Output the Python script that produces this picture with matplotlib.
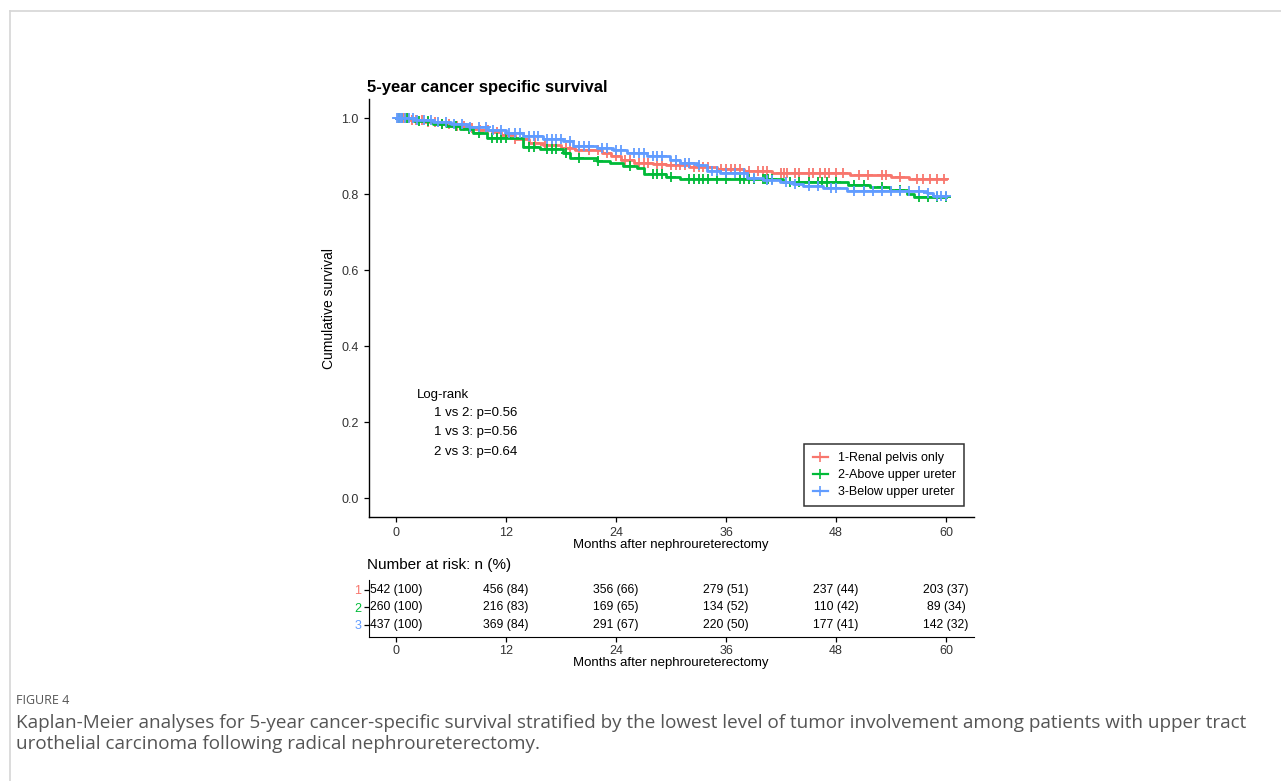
import numpy as np
import matplotlib.pyplot as plt
from matplotlib.lines import Line2D

plt.rcParams['font.family'] = ['Liberation Sans', 'DejaVu Sans']

# ---- data ----
groups = ['1-Renal pelvis only', '2-Above upper ureter', '3-Below upper ureter']
colors = ['#F8766D', '#00BA38', '#619CFF']
follow_up = 60

t1 = [0, 1.5, 3, 4.5, 6, 7.5, 9, 10.5, 11.5, 13, 14.5, 16, 18, 19.5, 22.5, 23.5,
      24.5, 26, 28, 29.5, 32, 35, 38, 41, 49.5, 54, 56]
s1 = [1.0, 0.995, 0.99, 0.985, 0.98, 0.975, 0.968, 0.962, 0.956, 0.945, 0.935, 0.928,
      0.92, 0.915, 0.908, 0.899, 0.89, 0.881, 0.879, 0.876, 0.872, 0.866, 0.86, 0.856,
      0.851, 0.845, 0.84]
c1 = [0.2, 0.4, 0.6, 0.8, 1, 1.3, 1.7, 2.2, 2.8, 3.5, 4.2, 5, 5.8, 6.6, 7.4, 8.3, 9.2,
      10, 11, 12, 13, 14, 15.2, 16.3, 17, 18.5, 19, 20, 21, 22, 23, 24, 25, 25.5, 26.5,
      27, 27.5, 28.5, 29, 30, 30.5, 31, 31.5, 32.5, 33, 33.5, 34, 35.5, 36, 36.5, 37,
      37.5, 38.5, 39.5, 40, 40.5, 42, 42.3, 42.6, 43.5, 44, 45, 45.5, 46.3, 46.8, 47.2,
      48, 48.8, 50.5, 51.5, 53, 53.5, 55, 56.8, 57.5, 58.2, 59, 59.8]

t2 = [0, 2, 4, 5.5, 7, 8.4, 9.9, 13.9, 15.7, 18.2, 19, 21.9, 23.3, 24.8, 26.3, 27,
      29.5, 31, 42.2, 49.3, 51.7, 53.9, 55.7, 56.5]
s2 = [1.0, 0.993, 0.985, 0.978, 0.97, 0.96, 0.947, 0.925, 0.918, 0.908, 0.895, 0.888,
      0.883, 0.874, 0.868, 0.853, 0.846, 0.839, 0.833, 0.824, 0.818, 0.811, 0.801, 0.792]
c2 = [0.3, 0.7, 1.2, 2.5, 3.5, 5, 6.5, 8, 9, 10.5, 11, 11.5, 12, 14.5, 15, 16.5, 17,
      17.5, 18.5, 20, 22, 25.5, 28, 28.5, 29, 30, 32, 32.5, 33, 33.5, 34, 35, 36, 37.5,
      38, 38.5, 39, 40, 40.3, 40.6, 41, 43, 44, 45, 46, 46.5, 47, 48, 50, 51, 53, 55,
      57, 58, 59, 60]

t3 = [0, 2, 4, 6, 8, 10, 12, 13.9, 16, 18.2, 19.3, 21.9, 23.7, 25.2, 27.4, 29.9, 31,
      32.8, 33.9, 35.3, 38.3, 40, 41.9, 43.3, 44.4, 46.6, 49.2, 57.9, 58.6]
s3 = [1.0, 0.995, 0.99, 0.983, 0.977, 0.969, 0.96, 0.952, 0.945, 0.939, 0.927, 0.921,
      0.917, 0.908, 0.899, 0.89, 0.883, 0.877, 0.86, 0.855, 0.842, 0.836, 0.833, 0.827,
      0.822, 0.816, 0.809, 0.803, 0.796]
c3 = [0.1, 0.3, 0.5, 0.7, 1, 1.4, 1.8, 2.3, 3, 3.8, 4.6, 5.5, 6.3, 7.2, 8.1, 9, 9.8,
      10.6, 11.5, 12.3, 13, 13.5, 14.5, 15, 15.5, 16.5, 17, 17.5, 18, 19, 20, 20.5, 21,
      22.5, 23, 24, 24.5, 26, 26.5, 27, 28, 28.5, 29, 30.5, 31.5, 32, 33, 34.5, 35, 36,
      37, 38, 39, 40.5, 41, 42.5, 43.5, 45, 46, 47.5, 48, 50, 51, 52, 53, 54, 55, 56,
      57, 58, 59, 59.5, 60]

risk_times = [0, 12, 24, 36, 48, 60]
risk_n = [[542, 456, 356, 279, 237, 203],
          [260, 216, 169, 134, 110, 89],
          [437, 369, 291, 220, 177, 142]]
risk_pct = [[100, 84, 66, 51, 44, 37],
            [100, 83, 65, 52, 42, 34],
            [100, 84, 67, 50, 41, 32]]

logrank = ['1 vs 2: p=0.56', '1 vs 3: p=0.56', '2 vs 3: p=0.64']

W, H = 1281, 781
fig = plt.figure(figsize=(W / 100, H / 100), dpi=100)

def fx(px):
    return px / W

def fy(py):
    return 1 - py / H

# page frame lines
fig.add_artist(Line2D([fx(9.5), 1], [fy(10.5), fy(10.5)], color='#d6d6d6', lw=1.2))
fig.add_artist(Line2D([fx(9.5), fx(9.5)], [fy(10.5), 0], color='#d6d6d6', lw=1.2))

# ---- survival plot ----
ax = fig.add_axes([fx(368.5), fy(517.3), fx(973.5) - fx(368.5), fy(99) - fy(517.3)])
curves = [(t1, s1, c1), (t2, s2, c2), (t3, s3, c3)]
for (t, s, c), col in zip(curves, colors):
    tt = list(t) + [follow_up]
    ss = list(s) + [s[-1]]
    ax.step(tt, ss, where='post', color=col, lw=2.0)
    idx = np.searchsorted(t, c, side='right') - 1
    ax.plot(c, np.array(s)[idx], ls='none', marker='+', ms=7, mew=1.3, color=col)

ax.set_xlim(-3, 63)
ax.set_ylim(-0.05, 1.05)
ax.set_xticks(risk_times)
ax.set_yticks([0, 0.2, 0.4, 0.6, 0.8, 1.0])
ax.set_yticklabels(['0.0', '0.2', '0.4', '0.6', '0.8', '1.0'])
for sp in ['top', 'right']:
    ax.spines[sp].set_visible(False)
for sp in ['left', 'bottom']:
    ax.spines[sp].set_linewidth(1.0)
ax.tick_params(labelsize=9, colors='black', labelcolor='#333333', length=3.5, width=0.9)
ax.set_xlabel('Months after nephroureterectomy', fontsize=9.5, labelpad=0)
ax.set_ylabel('Cumulative survival', fontsize=10, labelpad=4)
ax.set_title('5-year cancer specific survival', fontsize=12, fontweight='bold',
             loc='left', x=-0.003, pad=5)

ax.text(2.3, 0.272, 'Log-rank', fontsize=9.5, va='center')
for i, txt in enumerate(logrank):
    ax.text(4.2, 0.225 - i * 0.051, txt, fontsize=9.5, va='center')

handles = [Line2D([], [], color=col, lw=1.6, marker='+', ms=7, mew=1.2) for col in colors]
leg = ax.legend(handles, groups, loc='lower right', bbox_to_anchor=(0.984, 0.027),
                borderaxespad=0, fontsize=9, frameon=True, fancybox=False,
                edgecolor='black', handlelength=1.2, borderpad=0.65, labelspacing=0.4)
leg.get_frame().set_linewidth(1.1)

# ---- number at risk table ----
rax = fig.add_axes([fx(368.5), fy(637), fx(973.5) - fx(368.5), fy(580) - fy(637)])
rax.set_xlim(-3, 63)
rax.set_ylim(2.69, -0.57)
for g in range(3):
    for j, tm in enumerate(risk_times):
        rax.text(tm, g, f'{risk_n[g][j]} ({risk_pct[g][j]})', ha='center', va='center',
                 fontsize=8.7)
rax.set_yticks([0, 1, 2])
rax.set_yticklabels(['1', '2', '3'])
rax.set_xticks(risk_times)
for sp in ['top', 'right']:
    rax.spines[sp].set_visible(False)
rax.tick_params(labelsize=9, labelcolor='#333333', length=3.5, width=0.9, pad=2)
rax.tick_params(axis='y', pad=1.5)
for lab, col in zip(rax.get_yticklabels(), colors):
    lab.set_color(col)
rax.set_xlabel('Months after nephroureterectomy', fontsize=9.5, labelpad=0)
fig.text(fx(367), fy(565), 'Number at risk: n (%)', fontsize=11, va='center', ha='left')

# ---- caption ----
fig.text(fx(16), fy(701), 'FIGURE 4', fontsize=9, color='#555555', va='center',
         family='Open Sans')
fig.text(fx(16), fy(723), 'Kaplan-Meier analyses for 5-year cancer-specific survival '
         'stratified by the lowest level of tumor involvement among patients with upper tract',
         fontsize=13.6, color='#555555', va='center', family='Open Sans')
fig.text(fx(16), fy(744), 'urothelial carcinoma following radical nephroureterectomy.',
         fontsize=13.6, color='#555555', va='center', family='Open Sans')

fig.savefig('out.png', dpi=100)
